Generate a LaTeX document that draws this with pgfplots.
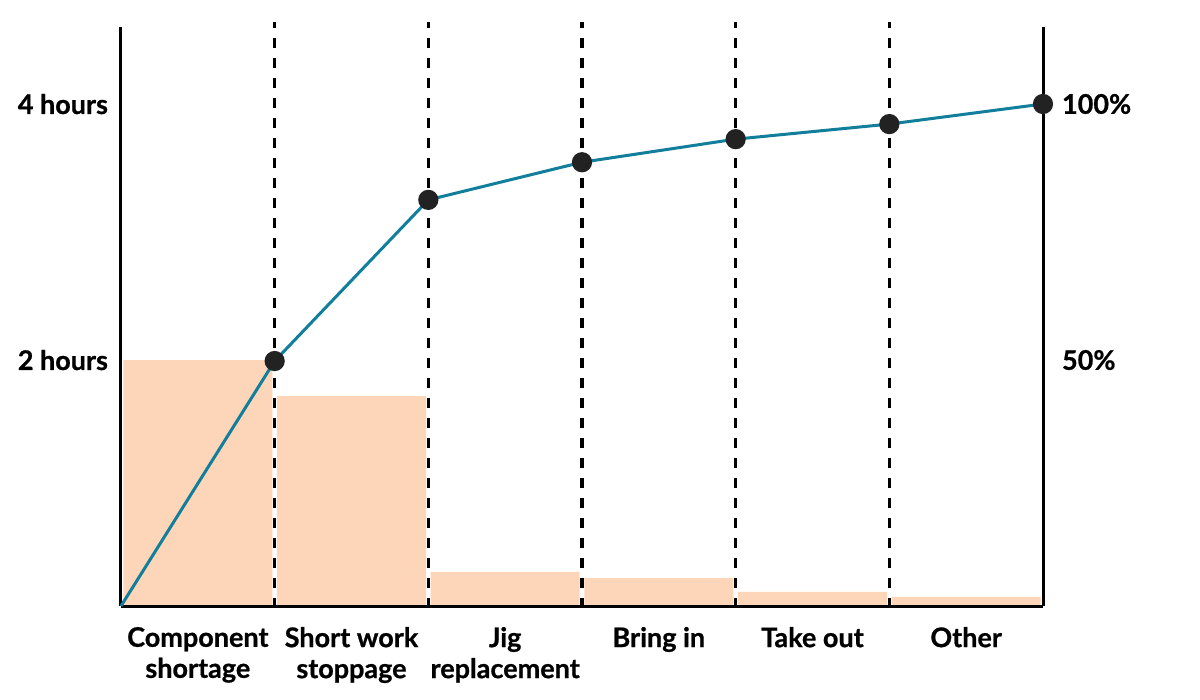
\documentclass[border=0pt]{standalone}
\usepackage{pgfplots}
\pgfplotsset{compat=1.18}
\usepackage{fontspec}
\setmainfont{Lato}[BoldFeatures={FakeBold=0.8}]
\definecolor{barc}{HTML}{FDD5B8}
\definecolor{linec}{HTML}{117E9B}
\definecolor{dotc}{HTML}{222222}
\begin{document}
\begin{tikzpicture}
\useasboundingbox (0pt,0pt) rectangle (600pt,-350pt);
\begin{axis}[
  at={(60.5pt,-303pt)}, anchor=south west,
  scale only axis, width=461pt, height=289.5pt,
  xmin=0, xmax=6, ymin=0, ymax=4.614,
  axis x line*=bottom, axis y line*=left,
  axis line style={line width=1.5pt,-,black},
  axis on top, clip=false,
  major tick length=0pt,
  ytick={1.96,4}, yticklabels={2 hours,4 hours},
  xtick={0.5,1.5,2.5,3.5,4.5,5.5},
  xticklabels={{Component\\shortage},{Short work\\stoppage},{Jig\\replacement},{Bring in},{Take out},{Other}},
  ticklabel style={font=\bfseries\fontsize{13.5}{15.5}\selectfont},
  xticklabel style={align=center, yshift=-7pt},
  yticklabel style={xshift=-3pt},
]
\addplot[ybar, bar width=74.5pt, fill=barc, draw=none] coordinates {
  (0.5,1.96) (1.5,1.673) (2.5,0.271) (3.5,0.223) (4.5,0.112) (5.5,0.072)
};
\foreach \i in {1,2,3,4,5}{
  \edef\tmp{\noexpand\draw[black, line width=1.7pt, dash pattern=on 5pt off 5pt, dash phase=2pt] (axis cs:\i,4.653) -- (axis cs:\i,0);}
  \tmp
}
\end{axis}
\begin{axis}[
  at={(60.5pt,-303pt)}, anchor=south west,
  scale only axis, width=461pt, height=289.5pt,
  xmin=0, xmax=6, ymin=0, ymax=115.34,
  axis x line=none, axis y line*=right,
  axis line style={line width=1.5pt,-,black},
  clip=false,
  major tick length=0pt,
  ytick={49,100}, yticklabels={50\%,100\%},
  ticklabel style={font=\bfseries\fontsize{13.5}{15.5}\selectfont},
  yticklabel style={xshift=6pt},
]
\addplot[linec, line width=1.5pt, mark=*, mark size=4.3pt, mark indices={2,3,4,5,6,7},
  mark options={fill=dotc, draw=dotc, solid}] coordinates {
  (0,0) (1,48.8) (2,80.9) (3,88.4) (4,93.0) (5,96.0) (6,100)
};
\end{axis}
\end{tikzpicture}
\end{document}
